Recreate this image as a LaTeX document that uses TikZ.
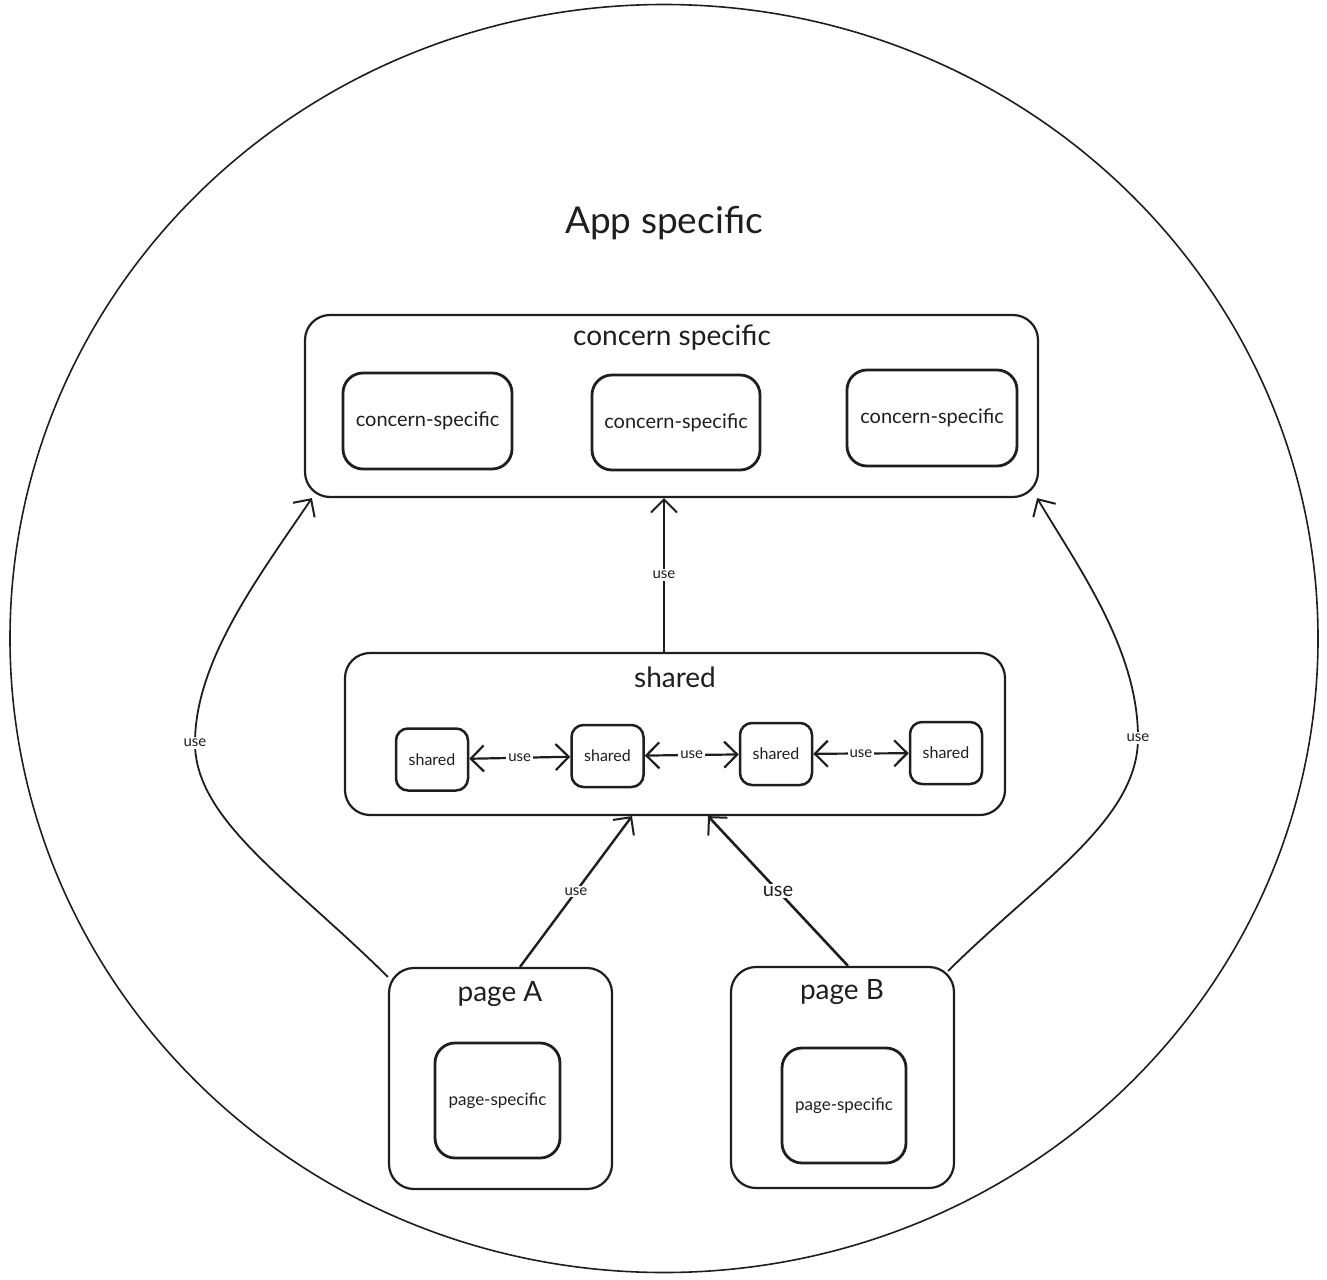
\documentclass[tikz,border=0pt]{standalone}
\usepackage{fontspec}
\setmainfont{Lato}
\usetikzlibrary{arrows.meta}
\definecolor{ink}{HTML}{1E1E1E}
\begin{document}
\begin{tikzpicture}[x=1pt, y=-1pt, color=ink, text=ink]

\tikzstyle{group}=[rectangle, draw, rounded corners=25pt, line width=2.2pt, inner sep=0pt]
\tikzstyle{unit}=[rectangle, draw, rounded corners=20pt, line width=2.8pt, inner sep=0pt]
\tikzstyle{lib}=[rectangle, draw, rounded corners=12pt, line width=2.5pt, inner sep=0pt, minimum width=72pt, minimum height=62pt, font=\fontsize{16}{18}\selectfont]
\tikzstyle{title}=[font=\fontsize{28}{32}\selectfont]
\tikzstyle{lbl}=[fill=white, inner sep=2pt, font=\fontsize{15}{17}\selectfont]
\tikzstyle{arrow}=[-{Straight Barb[length=13pt,width=26pt,line width=2pt]}, line width=1.8pt]
\tikzstyle{biarrow}=[{Straight Barb[length=13pt,width=26pt,line width=2.2pt]}-{Straight Barb[length=13pt,width=26pt,line width=2.2pt]}, line width=2.2pt]

\useasboundingbox (0,0) rectangle (1327,1279);

% app boundary
\draw [line width=1.6pt] (664,638.5) ellipse [x radius=654, y radius=634];
\node (app) at (664,223) {\fontsize{37}{40}\selectfont App specific};

% concern specific
\node (cs) [group, minimum width=733pt, minimum height=182pt] at (671.5,406) {};
\node (csT) [title] at (672,338) {concern specific};
\node (c1) [unit, minimum width=169pt, minimum height=96pt, font=\fontsize{20}{22}\selectfont] at (427.5,421) {concern-specific};
\node (c2) [unit, minimum width=168pt, minimum height=95pt, font=\fontsize{20}{22}\selectfont] at (676,422.5) {concern-specific};
\node (c3) [unit, minimum width=170pt, minimum height=96pt, font=\fontsize{20}{22}\selectfont] at (932,418) {concern-specific};

% shared
\node (sh) [group, minimum width=660pt, minimum height=162pt] at (675,734) {};
\node (shT) [title] at (675,677) {shared};
\node (s1) [lib] at (432,759.5) {shared};
\node (s2) [lib] at (607.5,756) {shared};
\node (s3) [lib] at (776,754) {shared};
\node (s4) [lib] at (946,753) {shared};

% pages
\node (pA) [group, minimum width=223pt, minimum height=221pt] at (500.5,1078.5) {};
\node (pAT) [title] at (500,994) {page A};
\node (pAi) [unit, minimum width=125pt, minimum height=115pt, font=\fontsize{17}{19}\selectfont] at (497.5,1100.5) {page-specific};
\node (pB) [group, minimum width=223pt, minimum height=221pt] at (842.5,1077.5) {};
\node (pBT) [title] at (842,992) {page B};
\node (pBi) [unit, minimum width=124pt, minimum height=115pt, font=\fontsize{17}{19}\selectfont] at (844,1105.5) {page-specific};

% uses
\draw [biarrow] (s1) -- node [lbl] {use} (s2);
\draw [biarrow] (s2) -- node [lbl] {use} (s3);
\draw [biarrow] (s3) -- node [lbl] {use} (s4);

\draw [arrow] ([xshift=-11pt]sh.north) -- node [lbl] {use} ([xshift=-7.5pt]cs.south);
\draw [arrow, line width=2.4pt] ([xshift=19.5pt]pA.north) -- node [lbl] {use} ([xshift=-43pt]sh.south);
\draw [arrow, line width=2.6pt] ([xshift=5.5pt]pB.north) -- node [lbl, font=\fontsize{20}{22}\selectfont] {use} ([xshift=33pt]sh.south);

\draw [arrow] ([yshift=-10pt]pA.north west) .. controls (290,880) and (195,820) .. (195,743) node [lbl] {use}
  .. controls (195,660) and (260,575) .. ([xshift=8pt]cs.south west);
\draw [arrow] ([xshift=-7pt,yshift=-5pt]pB.north east) .. controls (1040,880) and (1138,820) .. (1138,738) node [lbl] {use}
  .. controls (1138,650) and (1080,570) .. ([xshift=-2pt]cs.south east);

\end{tikzpicture}
\end{document}
